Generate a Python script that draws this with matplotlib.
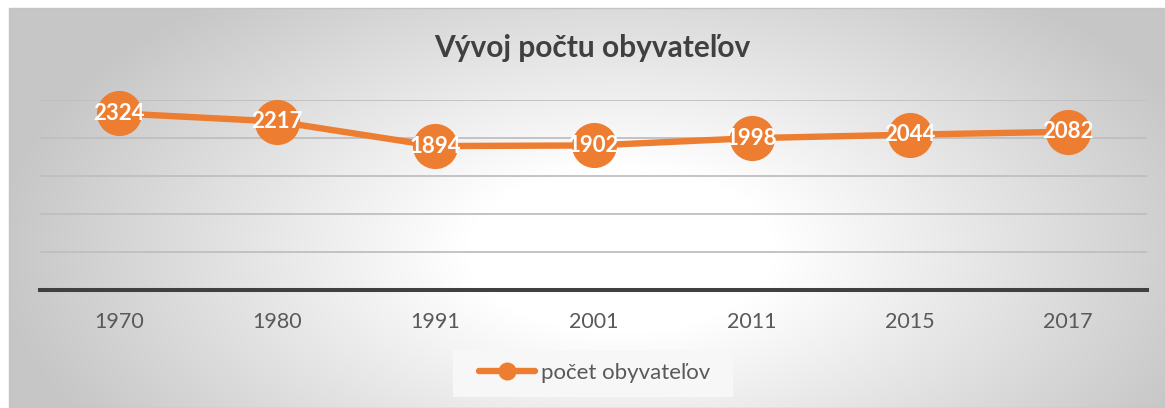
import matplotlib.pyplot as plt
import numpy as np

plt.rcParams['font.family'] = ['Lato', 'DejaVu Sans']

years = ['1970', '1980', '1991', '2001', '2011', '2015', '2017']
population = [2324, 2217, 1894, 1902, 1998, 2044, 2082]
title = 'Vývoj počtu obyvateľov'
series_name = 'počet obyvateľov'

orange = '#ED7D31'
W, H = 1165, 408

fig = plt.figure(figsize=(W / 100, H / 100), dpi=100)

# radial grey-to-white background of the chart area
bg = fig.add_axes([9 / W, 0, (W - 9) / W, (H - 8) / H], zorder=0)
yy, xx = np.mgrid[8:H, 9:W]
d = np.sqrt(((xx - 620) / 620) ** 2 + ((yy - 250) / 330) ** 2)
t = np.clip((d - 0.25) / 0.75, 0, 1)
shade = 1.0 - t * (1.0 - 0.78)
bg.imshow(np.dstack([shade] * 3), aspect='auto', extent=[0, 1, 0, 1])
bg.set_axis_off()
fig.patches.append(plt.Rectangle((9 / W, 0), (W - 9) / W, (H - 8) / H,
                                 transform=fig.transFigure, fill=False,
                                 edgecolor='#c4c4c4', lw=1.0, zorder=1))
# legend panel
fig.patches.append(plt.Rectangle((453 / W, 1 - 397 / H), 280 / W, 47 / H,
                                 transform=fig.transFigure, facecolor='#f7f7f7',
                                 edgecolor='none', zorder=1))

ax = fig.add_axes([40 / W, (H - 290) / H, 1107 / W, 190 / H], zorder=2)
ax.patch.set_alpha(0)
x = np.arange(len(years))
ax.plot(x, population, color=orange, lw=4.6, marker='o', markersize=32.5,
        markeredgewidth=0, solid_capstyle='round', label=series_name,
        clip_on=False, zorder=3)
for xi, v in zip(x, population):
    ax.text(xi, v, str(v), color='white', fontsize=16, fontweight='bold',
            ha='center', va='center', zorder=4)

ax.set_xlim(-0.5, len(years) - 0.5)
ax.set_ylim(0, 2500)
ax.set_yticks(np.arange(0, 2501, 500))
ax.yaxis.grid(True, color='#bfbfbf', lw=1.3)
ax.set_axisbelow(True)
ax.set_yticklabels([])
ax.tick_params(axis='y', length=0)
ax.set_xticks(x)
ax.set_xticklabels(years, fontsize=15.5, color='#595959')
ax.tick_params(axis='x', length=0, pad=16)
for s in ['top', 'right', 'left']:
    ax.spines[s].set_visible(False)
ax.spines['bottom'].set_color('#404040')
ax.spines['bottom'].set_linewidth(2.9)

fig.text(592 / W, 1 - 48 / H, title, ha='center', va='center',
         fontsize=21.5, fontweight='bold', color='#404040')

leg = ax.legend(loc='center', bbox_to_anchor=(595 / W, 1 - 373 / H),
                bbox_transform=fig.transFigure, markerscale=0.4,
                fontsize=16, frameon=False,
                handlelength=2.5, handletextpad=0.3, borderpad=0.6,
                borderaxespad=0)
for txt in leg.get_texts():
    txt.set_color('#595959')

fig.savefig('out.png', dpi=100)
